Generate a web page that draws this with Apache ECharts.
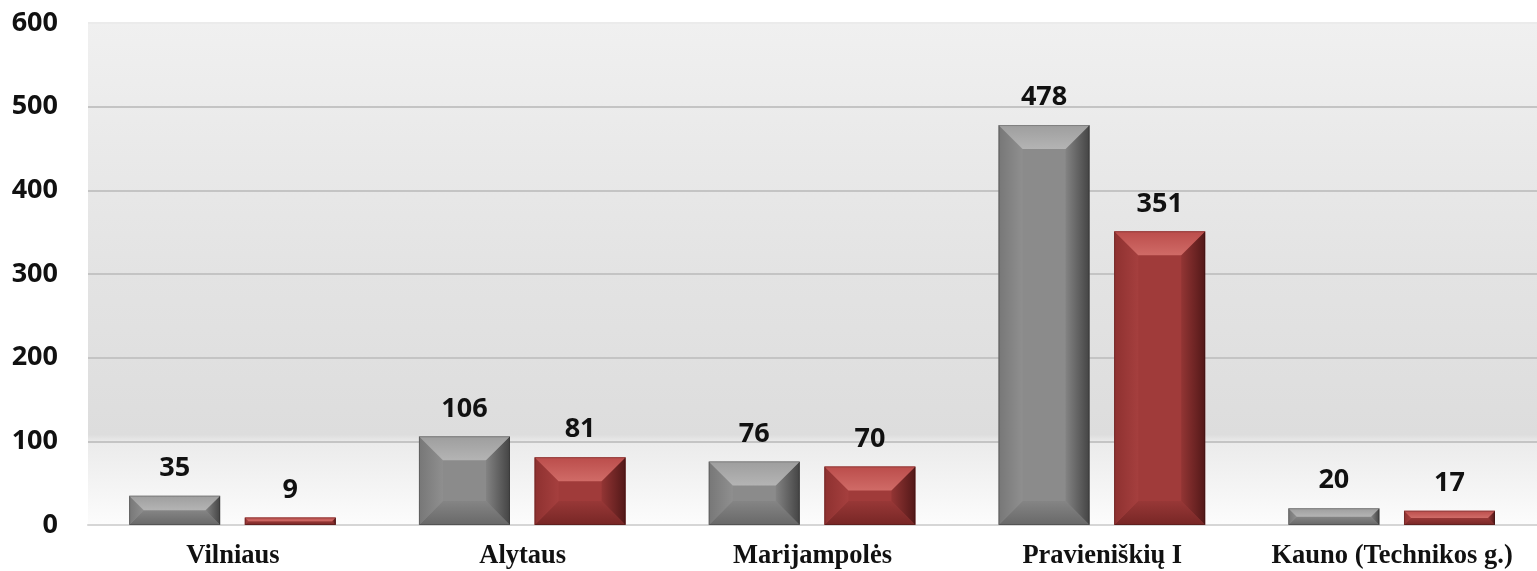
<!DOCTYPE html>
<html>
<head>
<meta charset="utf-8">
<style>
  html, body { margin: 0; padding: 0; background: #ffffff; }
  #chart { width: 1537px; height: 571px; }
</style>
<script src="https://cdn.jsdelivr.net/npm/echarts@6/dist/echarts.min.js"></script>
</head>
<body>
<div id="chart"></div>
<script>
// ---- data ----
var categories = ['Vilniaus', 'Alytaus', 'Marijampolės', 'Pravieniškių I', 'Kauno (Technikos g.)'];
var seriesGray = [35, 106, 76, 478, 20];
var seriesRed  = [9, 81, 70, 351, 17];
var yTicks = [0, 100, 200, 300, 400, 500, 600];

// ---- styles ----
var palettes = [
  { center: '#8b8b8b', top: ['#9e9e9e', '#b4b4b4'], left: ['#777777', '#8f8f8f'], right: ['#838383', '#444444'], bottom: ['#858585', '#686868'] },
  { center: '#a03b3a', top: ['#bb4d4b', '#d06b67'], left: ['#8e3130', '#a53f3e'], right: ['#933534', '#521818'], bottom: ['#983837', '#772625'] }
];
var offsets = [-0.201, 0.198];
var barFrac = 0.314;

function lin(horizontal, c) {
  return { type: 'linear', x: 0, y: 0, x2: horizontal ? 1 : 0, y2: horizontal ? 0 : 1,
    colorStops: [{ offset: 0, color: c[0] }, { offset: 1, color: c[1] }] };
}

function makeRender(si) {
  var p = palettes[si];
  return function (params, api) {
    var ci = api.value(0);
    var val = api.value(1);
    var band = api.size([1, 0])[0];
    var topPt = api.coord([ci, val]);
    var basePt = api.coord([ci, 0]);
    var w = band * barFrac;
    var cx = topPt[0] + band * offsets[si];
    var x0 = cx - w / 2, x1 = cx + w / 2;
    var y0 = topPt[1], y1 = basePt[1];
    var h = y1 - y0;
    var b = Math.min(24, w / 2, h / 2);
    var children = [
      { type: 'rect', shape: { x: x0, y: y0, width: w, height: h }, style: { fill: p.center } },
      { type: 'polygon', shape: { points: [[x0, y1], [x1, y1], [x1 - b, y1 - b], [x0 + b, y1 - b]] }, style: { fill: lin(false, p.bottom) } },
      { type: 'polygon', shape: { points: [[x0, y0], [x0 + b, y0 + b], [x0 + b, y1 - b], [x0, y1]] }, style: { fill: lin(true, p.left) } },
      { type: 'polygon', shape: { points: [[x1, y0], [x1 - b, y0 + b], [x1 - b, y1 - b], [x1, y1]] }, style: { fill: lin(true, p.right) } },
      { type: 'polygon', shape: { points: [[x0, y0], [x1, y0], [x1 - b, y0 + b], [x0 + b, y0 + b]] }, style: { fill: lin(false, p.top) } },
      { type: 'rect', shape: { x: x0 + 0.5, y: y0 + 0.5, width: w - 1, height: h - 1 }, style: { fill: null, stroke: 'rgba(0,0,0,0.2)', lineWidth: 1 } },
      { type: 'text', style: { text: String(val), x: cx, y: y0 - 14, align: 'center', verticalAlign: 'bottom',
          fill: '#111111', font: 'bold 27px "Open Sans", "Noto Sans", sans-serif' } }
    ];
    return { type: 'group', children: children };
  };
}

function toData(arr) {
  return arr.map(function (v, i) { return [i, v]; });
}

var chart = echarts.init(document.getElementById('chart'), null, { renderer: 'canvas' });
chart.setOption({
  animation: false,
  backgroundColor: '#ffffff',
  grid: {
    left: 88, right: 0, top: 23, bottom: 46,
    show: true, borderWidth: 0,
    backgroundColor: {
      type: 'linear', x: 0, y: 0, x2: 0, y2: 1,
      colorStops: [
        { offset: 0, color: '#f0f0f0' },
        { offset: 0.5, color: '#e3e3e3' },
        { offset: 0.82, color: '#dddddd' },
        { offset: 0.835, color: '#ebebeb' },
        { offset: 1, color: '#fcfcfc' }
      ]
    }
  },
  xAxis: {
    type: 'category',
    data: categories,
    axisTick: { show: false },
    axisLine: { show: true, lineStyle: { color: '#d6d6d6', width: 2 } },
    axisLabel: {
      color: '#111111', fontFamily: '"Liberation Serif", "DejaVu Serif", serif',
      fontWeight: 'bold', fontSize: 26.5, margin: 18, interval: 0
    }
  },
  yAxis: {
    type: 'value',
    min: yTicks[0], max: yTicks[yTicks.length - 1], interval: 100,
    axisLine: { show: false },
    axisTick: { show: false },
    axisLabel: {
      color: '#111111', fontFamily: '"Open Sans", "Noto Sans", sans-serif',
      fontWeight: 'bold', fontSize: 27, margin: 30
    },
    splitLine: {
      show: true,
      lineStyle: { color: ['#d6d6d6', '#c4c4c4', '#c4c4c4', '#c4c4c4', '#c4c4c4', '#c4c4c4', '#ebebeb'], width: 2 }
    }
  },
  series: [
    { type: 'custom', name: 'A', renderItem: makeRender(0), data: toData(seriesGray), encode: { x: 0, y: 1 }, z: 3 },
    { type: 'custom', name: 'B', renderItem: makeRender(1), data: toData(seriesRed), encode: { x: 0, y: 1 }, z: 3 }
  ]
});
</script>
</body>
</html>
